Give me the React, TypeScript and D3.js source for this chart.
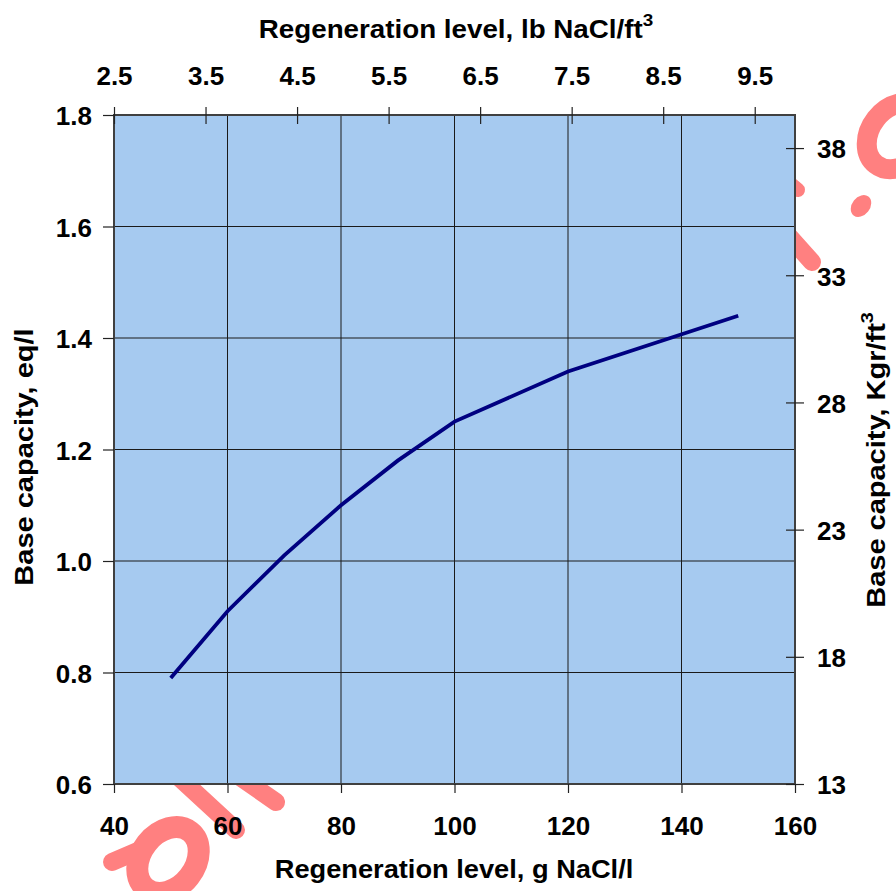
import React, { useEffect, useRef } from "react";
import * as d3 from "d3";

// Regeneration level (g NaCl/l) vs base capacity (eq/l)
const regenLevel = [50, 60, 70, 80, 90, 100, 120, 150];
const baseCapacity = [0.79, 0.91, 1.01, 1.1, 1.18, 1.25, 1.34, 1.44];

// tick labels
const bottomTicks = [40, 60, 80, 100, 120, 140, 160];
const leftTicks = [0.6, 0.8, 1.0, 1.2, 1.4, 1.6, 1.8];
const topTicks = [2.5, 3.5, 4.5, 5.5, 6.5, 7.5, 8.5, 9.5];
const rightTicks = [13, 18, 23, 28, 33, 38];

const App: React.FC = () => {
  const ref = useRef<SVGSVGElement>(null);
  const width = 896;
  const height = 891;
  const left = 114;
  const right = 795;
  const top = 115;
  const bottom = 784;

  useEffect(() => {
    const svg = d3.select(ref.current);
    svg.selectAll("*").remove();

    const x = d3.scaleLinear().domain([40, 160]).range([left, right]);
    const y = d3.scaleLinear().domain([0.6, 1.8]).range([bottom, top]);
    const xTop = d3.scaleLinear().domain([2.5, 9.94]).range([left, right]);
    const yRight = d3.scaleLinear().domain([13, 39.3]).range([bottom, top]);

    // pink watermark, mostly hidden behind the plot area
    const wm = svg.append("g").attr("fill", "none").attr("stroke", "#FF8080");
    wm.append("ellipse")
      .attr("transform", "translate(168,860) rotate(-52)")
      .attr("rx", 36).attr("ry", 27).attr("stroke-width", 22);
    wm.append("line").attr("x1", 112).attr("y1", 862).attr("x2", 140).attr("y2", 850)
      .attr("stroke-width", 18).attr("stroke-linecap", "round");
    wm.append("line").attr("x1", 160).attr("y1", 760).attr("x2", 236).attr("y2", 830)
      .attr("stroke-width", 18).attr("stroke-linecap", "round");
    wm.append("line").attr("x1", 230).attr("y1", 770).attr("x2", 276).attr("y2", 802)
      .attr("stroke-width", 18).attr("stroke-linecap", "round");
    wm.append("ellipse")
      .attr("transform", "translate(898,136) rotate(-52)")
      .attr("rx", 36).attr("ry", 28).attr("stroke-width", 20);
    wm.append("ellipse")
      .attr("transform", "translate(861,206) rotate(-52)")
      .attr("rx", 12).attr("ry", 9).attr("fill", "#FF8080").attr("stroke", "none");
    wm.append("line").attr("x1", 770).attr("y1", 215).attr("x2", 812).attr("y2", 262)
      .attr("stroke-width", 18).attr("stroke-linecap", "round");
    wm.append("line").attr("x1", 780).attr("y1", 175).attr("x2", 798).attr("y2", 190)
      .attr("stroke-width", 14).attr("stroke-linecap", "round");

    // plot area
    svg.append("rect")
      .attr("x", left).attr("y", top)
      .attr("width", right - left).attr("height", bottom - top)
      .attr("fill", "#A6CAF0");

    // gridlines
    svg.append("g").selectAll("line")
      .data(bottomTicks.slice(1, -1))
      .join("line")
      .attr("x1", (d) => x(d)).attr("x2", (d) => x(d))
      .attr("y1", top).attr("y2", bottom)
      .attr("stroke", "#1a1a1a").attr("stroke-width", 1);
    svg.append("g").selectAll("line")
      .data(leftTicks.slice(1, -1))
      .join("line")
      .attr("y1", (d) => y(d)).attr("y2", (d) => y(d))
      .attr("x1", left).attr("x2", right)
      .attr("stroke", "#1a1a1a").attr("stroke-width", 1);

    // curve
    const line = d3.line<number>()
      .x((d, i) => x(regenLevel[i]))
      .y((d) => y(d));
    svg.append("path")
      .datum(baseCapacity)
      .attr("d", line)
      .attr("fill", "none")
      .attr("stroke", "#000080")
      .attr("stroke-width", 3.8);

    // frame
    svg.append("rect")
      .attr("x", left).attr("y", top)
      .attr("width", right - left).attr("height", bottom - top)
      .attr("fill", "none")
      .attr("stroke", "#404040").attr("stroke-width", 2);

    const styleAxis = (g: d3.Selection<SVGGElement, unknown, null, undefined>) => {
      g.select(".domain").remove();
      g.selectAll(".tick line").attr("stroke", "#222").attr("stroke-width", 1.2);
      g.selectAll("text")
        .attr("font-family", "'Liberation Sans', Arial, sans-serif")
        .attr("font-weight", "bold")
        .attr("font-size", 26)
        .attr("fill", "#000");
      g.attr("font-family", null).attr("font-size", null);
    };

    // left axis
    const gl = svg.append("g")
      .attr("transform", `translate(${left},0)`)
      .call(d3.axisLeft(y).tickValues(leftTicks).tickSize(11).tickPadding(11)
        .tickFormat((d) => d3.format(".1f")(+d)));
    styleAxis(gl);
    gl.selectAll("text").attr("dy", "0.38em");

    // bottom axis
    const gb = svg.append("g")
      .attr("transform", `translate(0,${bottom})`)
      .call(d3.axisBottom(x).tickValues(bottomTicks).tickSize(9));
    styleAxis(gb);
    gb.selectAll("text").attr("y", 51).attr("dy", 0);

    // top axis (lb/ft3), ticks cross the frame
    const gt = svg.append("g")
      .attr("transform", `translate(0,${top})`)
      .call(d3.axisTop(xTop).tickValues(topTicks).tickSize(8)
        .tickFormat((d) => d3.format(".1f")(+d)));
    styleAxis(gt);
    gt.selectAll(".tick line").attr("y1", 9);
    gt.selectAll("text").attr("y", -30).attr("dy", 0);

    // right axis (Kgr/ft3), ticks cross the frame
    const gr = svg.append("g")
      .attr("transform", `translate(${right},0)`)
      .call(d3.axisRight(yRight).tickValues(rightTicks).tickSize(9));
    styleAxis(gr);
    gr.selectAll(".tick line").attr("x1", -9);
    gr.selectAll("text").attr("x", 22).attr("dy", "0.38em");

    // titles
    const addTitle = (
      tx: number, ty: number, rot: number, sx: number,
      main: string, sup?: string
    ) => {
      const t = svg.append("g")
        .attr("transform", `translate(${tx},${ty}) rotate(${rot}) scale(${sx},1)`)
        .append("text")
        .attr("text-anchor", "middle")
        .attr("font-family", "'Liberation Sans', Arial, sans-serif")
        .attr("font-weight", "bold")
        .attr("font-size", 25)
        .attr("fill", "#000");
      t.append("tspan").text(main);
      if (sup) {
        t.append("tspan").attr("font-size", 17).attr("dy", -12).text(sup);
      }
    };

    addTitle(456, 38, 0, 1.11, "Regeneration level, lb NaCl/ft", "3");
    addTitle(454, 878, 0, 1.09, "Regeneration level, g NaCl/l");
    addTitle(33, 457, -90, 1.16, "Base capacity, eq/l");
    addTitle(885, 460, -90, 1.16, "Base capacity, Kgr/ft", "3");
  }, []);

  return (
    <svg
      ref={ref}
      width={width}
      height={height}
      style={{ position: "absolute", left: 0, top: 0, background: "#fff" }}
    />
  );
};

export default App;
